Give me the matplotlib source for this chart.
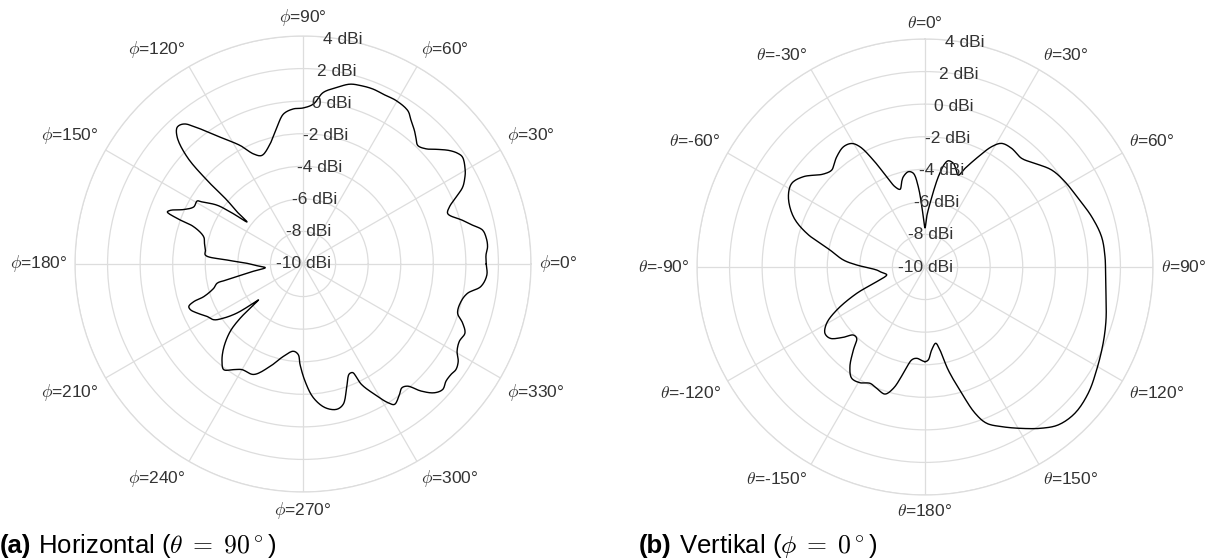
import numpy as np
import matplotlib
matplotlib.use("Agg")
import matplotlib.pyplot as plt

plt.rcParams['font.family'] = ['Liberation Sans', 'DejaVu Sans']
plt.rcParams['mathtext.fontset'] = 'cm'

# ---------------- data ----------------
phi_deg = [0, 2.8, 5.3, 7.9, 10.7, 12.9, 15.3, 19.2, 21.3, 23.6, 25.7, 28.2, 30, 33.8, 35.6,
           37.8, 40.4, 43.1, 45.9, 47.9, 50.1, 53, 55.6, 60.3, 64.2, 68.2, 71.8, 75.4, 79.2,
           83.3, 86.3, 90, 93.6, 97.4, 100.8, 105.3, 110.8, 114.2, 117.9, 123.1, 127.2,
           130.4, 132.6, 134.8, 137.3, 138.9, 140, 141.6, 143.1, 144.2, 145.6, 148.4, 149.2,
           152.4, 155.4, 157.9, 159, 160.1, 161.2, 164.7, 168.2, 171.9, 174.8, 177, 179.3,
           181.8, 185.6, 187.8, 189.4, 191.8, 192.6, 195.2, 198.2, 199, 200.4, 202.1, 204.9,
           208.7, 212, 214.3, 216.6, 218.3, 218.9, 219.9, 220.8, 222.8, 226.6, 230.2, 233.1,
           236.7, 240, 245.9, 252.2, 258, 263.7, 267, 268.3, 271, 274.4, 278.7, 283, 286,
           289.4, 292.5, 293.8, 294.7, 295.9, 298.8, 301.5, 303.1, 306.5, 308.6, 310.6, 312.9,
           315.6, 318.1, 320.7, 323.3, 325.4, 327.9, 330.5, 333.7, 336.9, 339.7, 342.4,
           346.6, 349.9, 352.8, 356.6, 360]
gain_h_dbi = [1.25, 1.25, 1.38, 1.37, 1.22, 0.68, 0.16, -0.59, -0.35, 0.26, 0.88, 1.28, 1.5,
              1.79, 1.68, 1.37, 0.86, 0.35, 0.13, 0.36, 0.67, 1.03, 1.4, 1.55, 1.53, 1.57,
              1.52, 1.41, 1.03, 0.6, -0.16, -0.42, -0.46, -0.71, -1.45, -2.35, -2.87, -2.59,
              -1.77, -0.71, 0.41, 1.29, 1.41, 0.96, -0.33, -2.19, -3.91, -4.8, -5.7, -4.7,
              -3.61, -2.73, -2.44, -2.43, -1.96, -1.23, -1.08, -1.79, -2.92, -3.68, -3.82,
              -3.95, -3.98, -5.33, -6.56, -7.11, -7.67, -7.09, -6.51, -5.23, -4.6, -4.32,
              -3.59, -2.91, -2.52, -2.54, -2.84, -3.29, -3.54, -4.11, -4.95, -6.12, -6.49,
              -5.78, -4.91, -3.91, -2.91, -2.23, -1.89, -2.24, -2.51, -2.57, -3.4, -4.2,
              -4.61, -4.43, -3.83, -2.8, -1.77, -1.08, -0.84, -1.04, -1.94, -2.65, -2.7,
              -2.65, -1.78, -0.86, -0.01, 0.29, -0.04, -0.27, -0.12, 0.65, 1.3, 1.53, 1.35,
              1.34, 1.41, 1.25, 0.87, 0.71, 0.81, 0.45, -0.04, -0.03, 0.26, 1.01, 1.31, 1.25]

theta_deg = [-180, -174.8, -171.9, -168.5, -165.4, -162.5, -158.3, -154.7, -150.7, -146.6,
             -143, -139.2, -136.2, -133.5, -130.7, -126.9, -123.5, -119.8, -116, -111.1,
             -106.9, -101.5, -97.2, -93.6, -88.3, -85.1, -79.9, -74.1, -69.1, -62.8, -57.9,
             -53.4, -47.6, -43.9, -41.2, -38.7, -34.2, -30.7, -28.4, -25.8, -23, -20.5,
             -17.8, -15.3, -13.5, -9.9, -7.1, -4.8, -1.9, 0, 1.9, 4.5, 8.4, 10.9, 12.4,
             15.3, 17.3, 19.9, 22.1, 25.8, 29, 31.8, 36.1, 41.7, 46.7, 52.6, 58.6, 65.9,
             73.2, 80.3, 86.7, 92.5, 98.3, 106.3, 113.2, 121, 127.7, 134.3, 139.8, 144.1,
             149.1, 154.3, 158.5, 161.1, 163.8, 167.3, 169.8, 172, 175.4, 178, 180]
gain_v_dbi = [-4.19, -4.37, -4.24, -3.34, -2.3, -1.82, -1.98, -2.1, -1.85, -1.82, -2.34,
              -3.27, -3.94, -3.93, -3.38, -2.71, -2.63, -3.04, -3.97, -5.51, -6.9, -7.6,
              -7.32, -7.03, -5.8, -4.97, -4.08, -2.45, -1.35, -0.57, -0.34, -0.7, -1.54,
              -1.74, -1.54, -1.33, -1.08, -1.18, -1.61, -2.71, -3.98, -4.74, -4.99, -4.57,
              -4.3, -4.06, -4.2, -5.05, -6.91, -7.6, -6.91, -6.08, -4.4, -3.52, -3.32, -3.4,
              -3.66, -4.0, -3.46, -2.48, -1.55, -1.07, -0.98, -1.07, -0.72, -0.2, 0.06, 0.31,
              0.69, 1.0, 1.07, 1.1, 1.23, 1.58, 1.9, 2.29, 2.67, 2.86, 2.69, 2.22, 1.55,
              0.88, 0.31, -0.51, -1.93, -3.52, -4.82, -5.27, -4.89, -4.29, -4.19]

r_ticks = [-10, -8, -6, -4, -2, 0, 2, 4]
angle_ticks = [0, 30, 60, 90, 120, 150, 180, 210, 240, 270, 300, 330]
phi_labels = [0, 30, 60, 90, 120, 150, 180, 210, 240, 270, 300, 330]
theta_labels = [0, 30, 60, 90, 120, 150, 180, -150, -120, -90, -60, -30]

GRID = '#dddddd'
TXT = '#333333'
FS = 12.5
RMIN = -10

fig = plt.figure(figsize=(12.08, 5.6), dpi=100)
W, H = 1208, 560
R = 228


def smooth_polar(ang_deg, gain, sub=10):
    """Draw-time smoothing: centripetal Catmull-Rom through the read points
    (in the plane of the plot), returned as (theta, r) for the polar axes."""
    a = np.deg2rad(np.asarray(ang_deg, float))
    rr = np.asarray(gain, float) - RMIN
    P = np.column_stack([rr * np.cos(a), rr * np.sin(a)])[:-1]  # closed curve
    n = len(P)
    out = []
    for i in range(n):
        p0, p1, p2, p3 = P[(i - 1) % n], P[i], P[(i + 1) % n], P[(i + 2) % n]
        t0 = 0.0
        t1 = t0 + np.linalg.norm(p1 - p0) ** 0.5 + 1e-9
        t2 = t1 + np.linalg.norm(p2 - p1) ** 0.5 + 1e-9
        t3 = t2 + np.linalg.norm(p3 - p2) ** 0.5 + 1e-9
        for t in np.linspace(t1, t2, sub, endpoint=False):
            A1 = (t1 - t) / (t1 - t0) * p0 + (t - t0) / (t1 - t0) * p1
            A2 = (t2 - t) / (t2 - t1) * p1 + (t - t1) / (t2 - t1) * p2
            A3 = (t3 - t) / (t3 - t2) * p2 + (t - t2) / (t3 - t2) * p3
            B1 = (t2 - t) / (t2 - t0) * A1 + (t - t0) / (t2 - t0) * A2
            B2 = (t3 - t) / (t3 - t1) * A2 + (t - t1) / (t3 - t1) * A3
            out.append((t2 - t) / (t2 - t1) * B1 + (t - t1) / (t2 - t1) * B2)
    out.append(out[0])
    out = np.array(out)
    return np.arctan2(out[:, 1], out[:, 0]), np.hypot(out[:, 0], out[:, 1]) + RMIN


def make_ax(cx, cy):
    return fig.add_axes([(cx - R) / W, (H - cy - R) / H, 2 * R / W, 2 * R / H],
                        projection='polar')


def style(ax, label_texts, screen_angles, rlabel_theta):
    ax.set_ylim(RMIN, 4)
    ax.set_yticks(r_ticks[1:])
    ax.set_xticks(np.deg2rad(angle_ticks))
    ax.set_xticklabels([])
    ax.set_yticklabels([])
    ax.grid(True, color=GRID, linewidth=0.9)
    ax.spines['polar'].set_color(GRID)
    ax.spines['polar'].set_linewidth(0.9)
    ax.tick_params(length=0)
    ax.set_facecolor('white')
    for v in r_ticks:
        ax.text(np.deg2rad(rlabel_theta), v, f"{v} dBi", ha='center', va='center',
                fontsize=FS, color=TXT, zorder=5)
    k = (R + 8) / R
    for txt, a in zip(label_texts, screen_angles):
        c, s = np.cos(np.deg2rad(a)), np.sin(np.deg2rad(a))
        ha = 'left' if c > 0.1 else ('right' if c < -0.1 else 'center')
        va = 'bottom' if s > 0.1 else ('top' if s < -0.1 else 'center')
        ax.text(0.5 + 0.5 * k * c, 0.5 + 0.5 * k * s, txt, transform=ax.transAxes,
                ha=ha, va=va, fontsize=FS, color=TXT, clip_on=False)


# left: horizontal cut
ax1 = make_ax(303, 264)
t, r = smooth_polar(phi_deg, gain_h_dbi)
ax1.plot(t, r, color='black', linewidth=1.0, zorder=3)
style(ax1, [f"$\\phi$={d}°" for d in phi_labels], angle_ticks, 80)

# right: vertical cut
ax2 = make_ax(925, 267)
ax2.set_theta_zero_location('N')
ax2.set_theta_direction(-1)
t, r = smooth_polar(theta_deg, gain_v_dbi)
ax2.plot(t, r, color='black', linewidth=1.0, zorder=3)
style(ax2, [f"$\\theta$={d}°" for d in theta_labels],
      [90 - a for a in angle_ticks], 10)

# captions
CFS = 18.5
fig.canvas.draw()
for x0, bold, rest in [(0.0, "(a)", " Horizontal ($\\theta\\;=\\;90^\\circ$)"),
                       (639 / W, "(b)", " Vertikal ($\\phi\\;=\\;0^\\circ$)")]:
    t1 = fig.text(x0, 0.0125, bold, fontsize=CFS, fontweight='bold', color='black',
                  ha='left', va='baseline')
    fig.canvas.draw()
    bb = t1.get_window_extent()
    fig.text(bb.x1 / W, 0.0125, rest, fontsize=CFS, color='black', ha='left',
             va='baseline')

fig.savefig('out.png', dpi=100, facecolor='white')
